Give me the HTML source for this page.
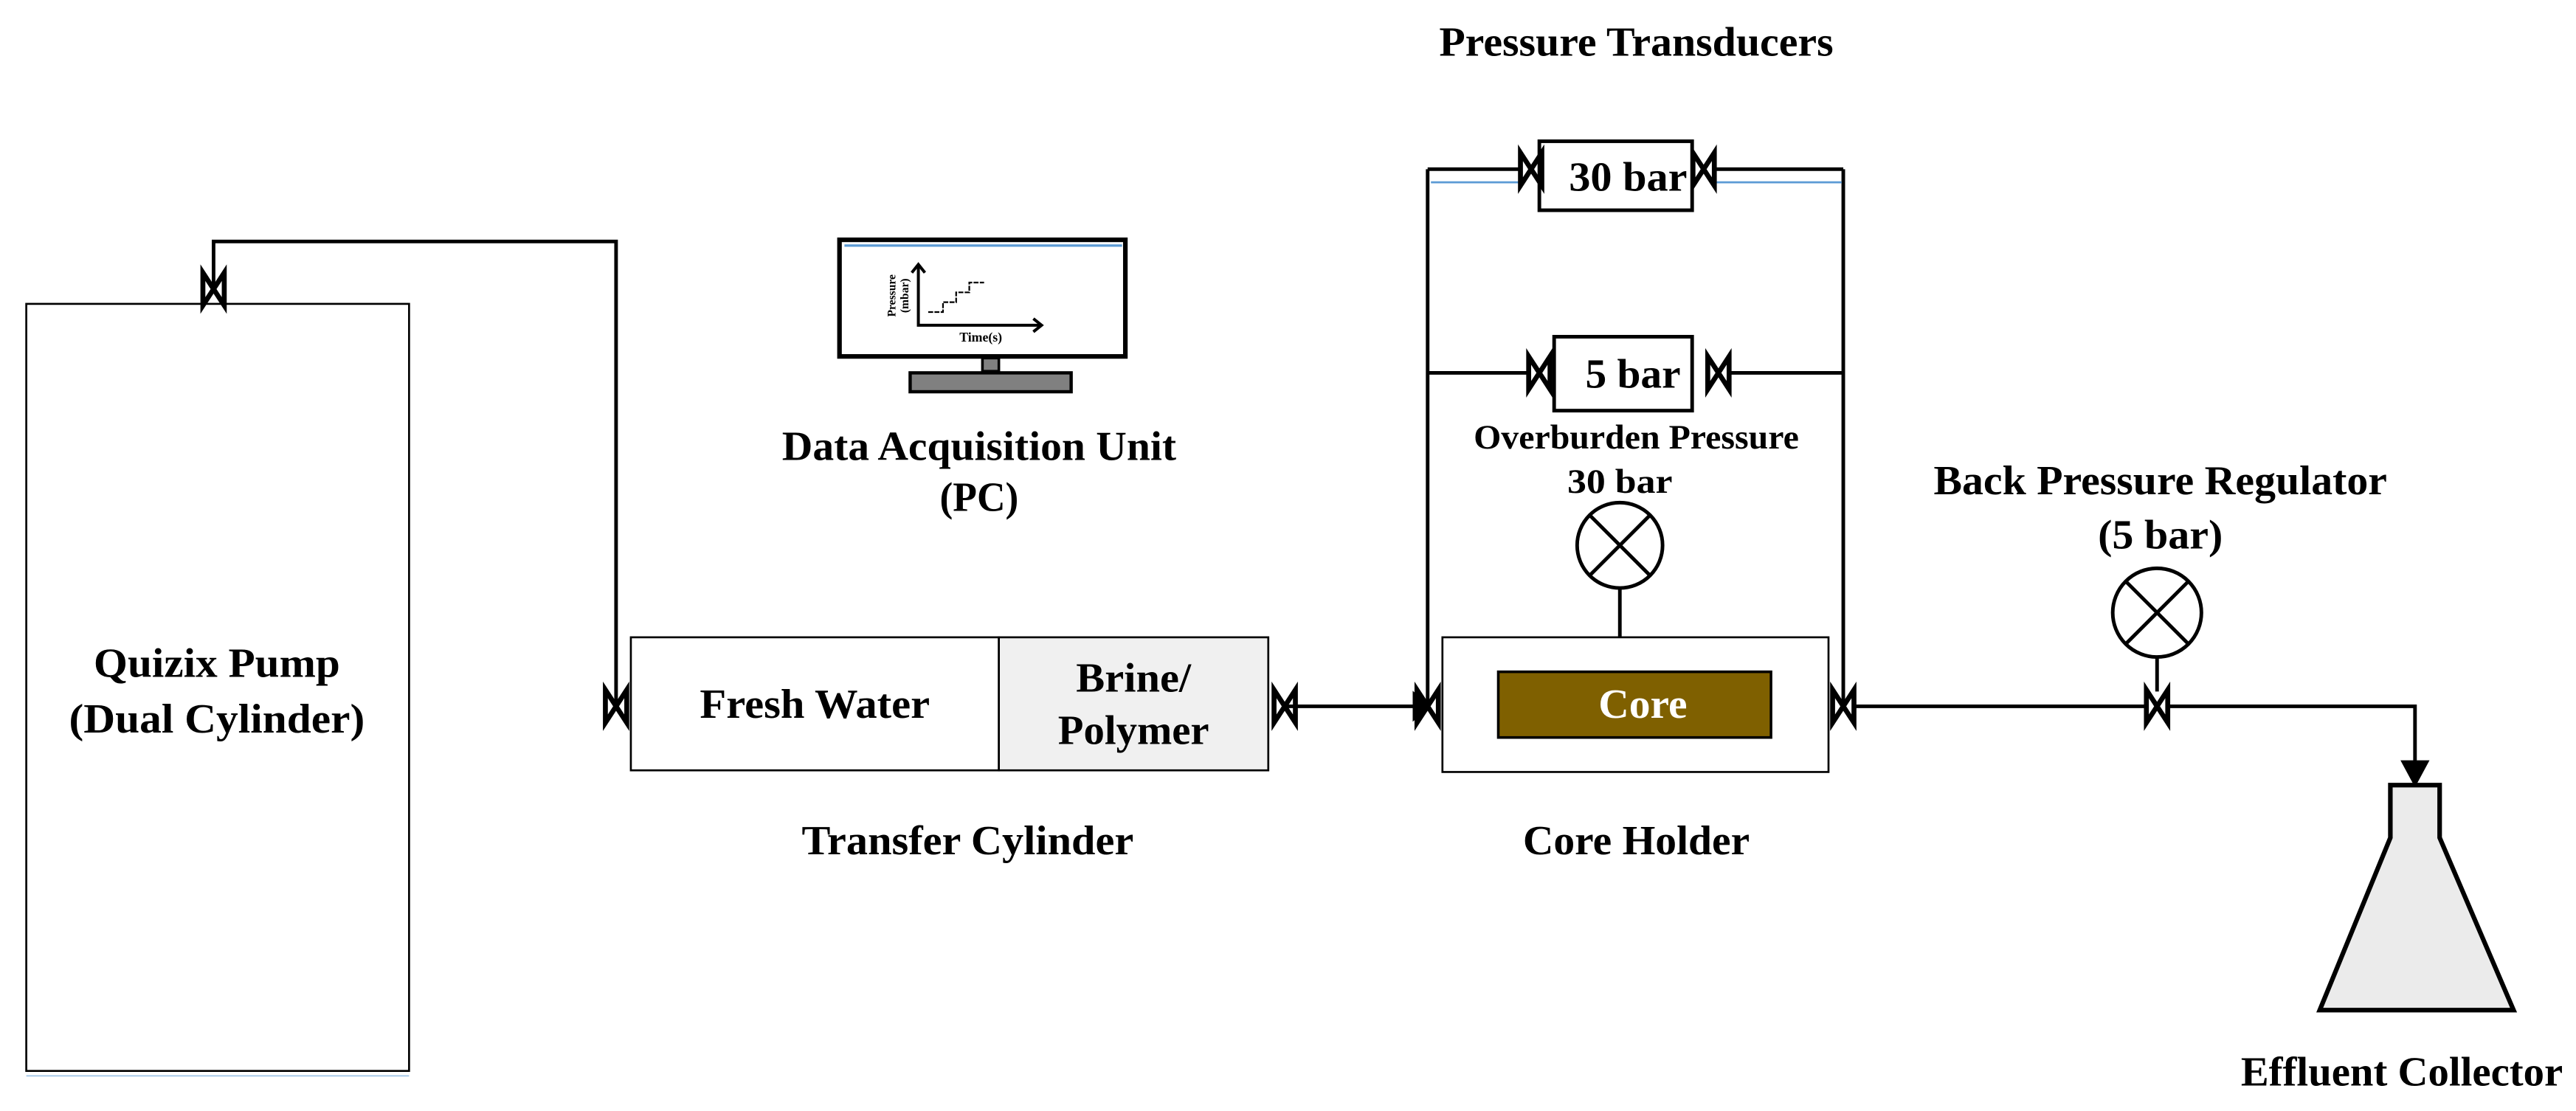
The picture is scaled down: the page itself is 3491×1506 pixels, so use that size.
<!DOCTYPE html>
<html><head><meta charset="utf-8"><style>
html,body{margin:0;padding:0;background:#fff;}
svg{display:block;}
text{font-family:"Liberation Serif",serif;font-weight:bold;fill:#000;}
</style></head><body>
<svg width="3491" height="1506" viewBox="0 0 1568 676.4" preserveAspectRatio="none" xmlns="http://www.w3.org/2000/svg">
<defs>
<g id="v"><polygon points="-6.5,-10 6.5,10 6.5,-10 -6.5,10" fill="none" stroke="#000" stroke-width="3" stroke-linejoin="miter"/></g>
</defs>
<g stroke="#000" fill="none" stroke-width="2.2">
<rect x="16" y="185" width="233" height="467" stroke-width="1.2"/>
<line x1="16" y1="655" x2="249" y2="655" stroke="#9dc3e6" stroke-width="0.8"/>
<polyline points="130,176 130,147 375,147 375,430"/>
<rect x="608" y="388" width="164" height="81" fill="#f0f0f0" stroke-width="1.2"/>
<rect x="384" y="388" width="224" height="81" stroke-width="1.2"/>
<line x1="782" y1="430" x2="860" y2="430"/>
<rect x="878" y="388" width="235" height="82" stroke-width="1.2"/>
<rect x="912" y="409" width="166" height="40" fill="#7f6000" stroke-width="1.6"/>
<line x1="869" y1="103" x2="869" y2="430"/>
<line x1="1122" y1="103" x2="1122" y2="430"/>
<line x1="869" y1="103" x2="926" y2="103"/>
<line x1="1043" y1="103" x2="1122" y2="103"/>
<line x1="871" y1="111" x2="926" y2="111" stroke="#5b9bd5" stroke-width="1.2"/>
<line x1="1043" y1="111" x2="1121" y2="111" stroke="#5b9bd5" stroke-width="1.2"/>
<line x1="869" y1="227" x2="931" y2="227"/>
<line x1="1052" y1="227" x2="1122" y2="227"/>
<rect x="937" y="86" width="93" height="42" fill="#fff" stroke-width="2.2"/>
<rect x="946" y="205" width="84" height="45" fill="#fff" stroke-width="2.2"/>
<line x1="986" y1="358" x2="986" y2="388"/>
<circle cx="986" cy="332" r="26" fill="#fff"/>
<line x1="968" y1="314" x2="1004" y2="350"/>
<line x1="1004" y1="314" x2="968" y2="350"/>
<polyline points="1128,430 1307,430"/>
<polyline points="1319,430 1470,430 1470,466"/>
<polygon points="1463,464 1477,464 1470,477" fill="#000"/>
<polygon points="861,423 861,437 869,430" fill="#000"/>
<line x1="1313" y1="400" x2="1313" y2="421"/>
<circle cx="1313" cy="373" r="27" fill="#fff"/>
<line x1="1294" y1="354" x2="1332" y2="392"/>
<line x1="1332" y1="354" x2="1294" y2="392"/>
<polygon points="1455,478 1485,478 1485,510 1530,615 1412,615 1455,510" fill="#ebebeb" stroke-width="2.8" stroke-linejoin="miter"/>
<rect x="511" y="146" width="174" height="71" fill="#fff" stroke-width="2.8"/>
<line x1="514" y1="149.5" x2="683" y2="149.5" stroke="#5b9bd5" stroke-width="1.5"/>
<rect x="598" y="218" width="10" height="8" fill="#808080" stroke-width="1.6"/>
<rect x="554" y="227" width="98" height="11.5" fill="#808080" stroke-width="2"/>
<polyline points="559,162 559,198 633,198" stroke-width="1.8"/>
<polyline points="555,166 559,161 563,166" stroke-width="1.8"/>
<polyline points="629,194 634,198 629,202" stroke-width="1.8"/>
<polyline points="565,190 574,190 574,184 582,184 582,178 590,178 590,172 599,172" stroke-width="1" stroke-dasharray="3,0.8"/>
</g>
<g>
<use href="#v" x="130" y="176"/>
<use href="#v" x="375" y="430"/>
<use href="#v" x="782" y="430"/>
<use href="#v" x="869" y="430"/>
<use href="#v" x="1122" y="430"/>
<use href="#v" x="1313" y="430"/>
<use href="#v" x="932" y="103"/>
<use href="#v" x="1037" y="103"/>
<use href="#v" x="937" y="227"/>
<use href="#v" x="1046" y="227"/>
</g>
<g text-anchor="middle" font-size="25">
<text x="132" y="412" textLength="150" lengthAdjust="spacingAndGlyphs">Quizix Pump</text>
<text x="132" y="446" textLength="180" lengthAdjust="spacingAndGlyphs">(Dual Cylinder)</text>
<text x="496" y="437" textLength="140" lengthAdjust="spacingAndGlyphs">Fresh Water</text>
<text x="690" y="421" textLength="70" lengthAdjust="spacingAndGlyphs">Brine/</text>
<text x="690" y="453" textLength="92" lengthAdjust="spacingAndGlyphs">Polymer</text>
<text x="589" y="520" textLength="202" lengthAdjust="spacingAndGlyphs">Transfer Cylinder</text>
<text x="596" y="280" textLength="240" lengthAdjust="spacingAndGlyphs">Data Acquisition Unit</text>
<text x="596" y="311" textLength="48" lengthAdjust="spacingAndGlyphs">(PC)</text>
<text x="996" y="34" textLength="240" lengthAdjust="spacingAndGlyphs">Pressure Transducers</text>
<text x="991" y="116" textLength="72" lengthAdjust="spacingAndGlyphs">30 bar</text>
<text x="994" y="236" textLength="58" lengthAdjust="spacingAndGlyphs">5 bar</text>
<text x="996" y="273" font-size="21" textLength="198" lengthAdjust="spacingAndGlyphs">Overburden Pressure</text>
<text x="986" y="300" font-size="21" textLength="64" lengthAdjust="spacingAndGlyphs">30 bar</text>
<text x="1000" y="437" style="fill:#fff" textLength="54" lengthAdjust="spacingAndGlyphs">Core</text>
<text x="996" y="520" textLength="138" lengthAdjust="spacingAndGlyphs">Core Holder</text>
<text x="1315" y="301" textLength="276" lengthAdjust="spacingAndGlyphs">Back Pressure Regulator</text>
<text x="1315" y="334" textLength="76" lengthAdjust="spacingAndGlyphs">(5 bar)</text>
<text x="1462" y="661" textLength="196" lengthAdjust="spacingAndGlyphs">Effluent Collector</text>
<text x="597" y="208" font-size="8" font-weight="normal" textLength="26" lengthAdjust="spacingAndGlyphs">Time(s)</text>
</g>
<text x="0" y="0" font-size="7" text-anchor="middle" transform="translate(545,180) rotate(-90)">Pressure</text>
<text x="0" y="0" font-size="7" text-anchor="middle" transform="translate(553,180) rotate(-90)">(mbar)</text>
</svg>
</body></html>
